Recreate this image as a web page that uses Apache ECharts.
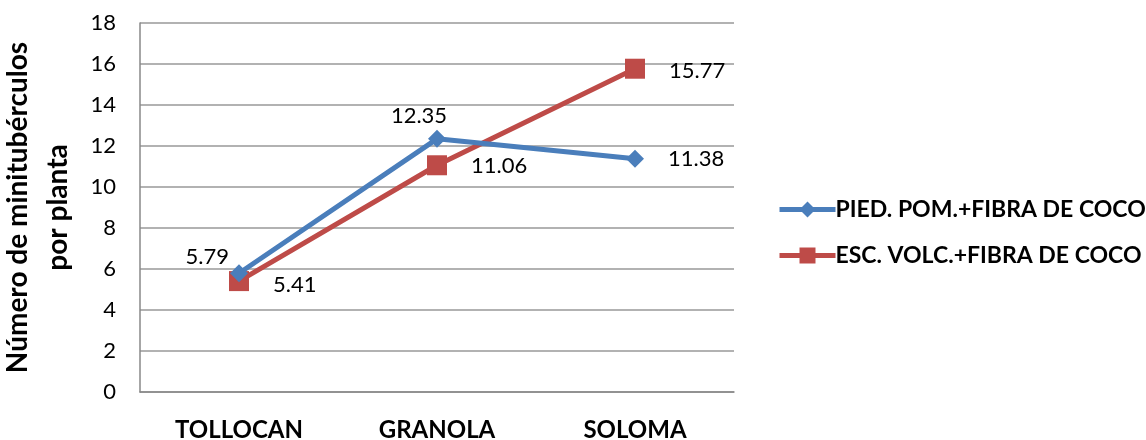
<!DOCTYPE html>
<html>
<head>
<meta charset="utf-8">
<script src="https://cdn.jsdelivr.net/npm/echarts@6/dist/echarts.min.js"></script>
<style>
  html, body { margin: 0; padding: 0; background: #fff; }
  #chart { width: 1146px; height: 440px; }
</style>
</head>
<body>
<div id="chart"></div>
<script>
// datos
var categorias = ['TOLLOCAN', 'GRANOLA', 'SOLOMA'];
var piedPom = [5.79, 12.35, 11.38];
var escVolc = [5.41, 11.06, 15.77];
var nombres = ['PIED. POM.+FIBRA DE COCO', 'ESC. VOLC.+FIBRA DE COCO'];

var FONT = 'Lato';

// posicion de etiqueta por punto (como en Excel)
var posAzul = [
  { position: 'left', offset: [4, -16] },
  { position: 'top', offset: [-18, 2] },
  { position: 'right', distance: 24 }
];
var posRojo = [
  { position: 'right', distance: 24, offset: [0, 4] },
  { position: 'right', distance: 24, offset: [0, 1] },
  { position: 'right', distance: 24, offset: [0, 2] }
];

function conEtiquetas(vals, pos) {
  return vals.map(function (v, i) {
    return { value: v, label: pos[i] };
  });
}

var chart = echarts.init(document.getElementById('chart'));
chart.setOption({
  animation: false,
  textStyle: { fontFamily: FONT },
  grid: { left: 140, right: 412, top: 23, bottom: 48, outerBoundsMode: 'none', containLabel: false },
  legend: {
    orient: 'vertical',
    left: 772,
    top: 193,
    itemGap: 23,
    itemWidth: 56,
    itemHeight: 20,
    lineStyle: { width: 5 },
    textStyle: { fontFamily: FONT, fontWeight: 'bold', fontSize: 23, color: '#000', padding: [0, 0, 0, -5] },
    data: nombres
  },
  xAxis: {
    type: 'category',
    data: categorias,
    boundaryGap: true,
    axisLine: { lineStyle: { color: '#888', width: 1.5 } },
    axisTick: { show: false },
    axisLabel: { fontFamily: FONT, fontWeight: 'bold', fontSize: 24, color: '#000', margin: 26 }
  },
  yAxis: {
    type: 'value',
    min: 0, max: 18, interval: 2,
    name: 'Número de minitubérculos\npor planta',
    nameLocation: 'middle',
    nameGap: 62,
    nameTextStyle: { fontFamily: FONT, fontWeight: 'bold', fontSize: 28, color: '#000', lineHeight: 40 },
    axisLine: { show: true, lineStyle: { color: '#888', width: 1.5 } },
    axisTick: { show: false },
    splitLine: { lineStyle: { color: '#999', width: 1.5 } },
    axisLabel: { fontFamily: FONT, fontSize: 22, color: '#000', margin: 24 }
  },
  series: [
    {
      name: nombres[0],
      type: 'line',
      data: conEtiquetas(piedPom, posAzul),
      symbol: 'diamond',
      symbolSize: 18,
      lineStyle: { color: '#4A7EBB', width: 5 },
      itemStyle: { color: '#4A7EBB' },
      label: { show: true, fontFamily: FONT, fontSize: 22, color: '#000' },
      z: 3
    },
    {
      name: nombres[1],
      type: 'line',
      data: conEtiquetas(escVolc, posRojo),
      symbol: 'rect',
      symbolSize: 20,
      lineStyle: { color: '#BE4B48', width: 5 },
      itemStyle: { color: '#BE4B48' },
      label: { show: true, fontFamily: FONT, fontSize: 22, color: '#000' },
      z: 2
    }
  ]
});
</script>
</body>
</html>
